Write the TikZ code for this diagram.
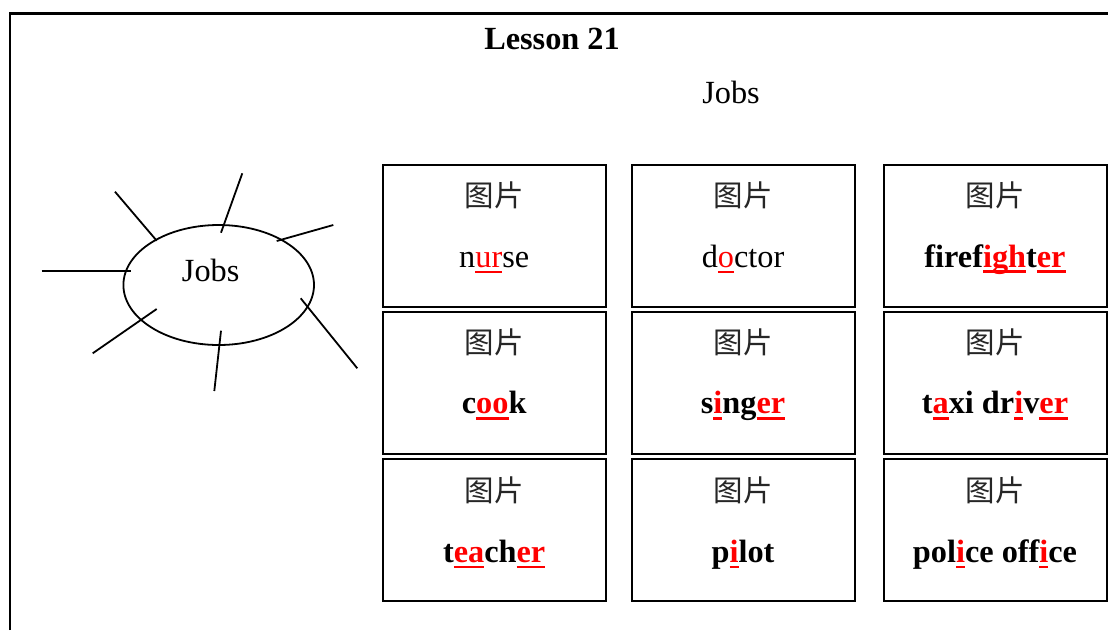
\documentclass[tikz,border=0pt]{standalone}
\usepackage{fontspec}
\setmainfont{Liberation Serif}
\newfontfamily\cjk{Noto Sans CJK SC}
\usetikzlibrary{shapes.geometric}
\newcommand\redul[2][2.7pt]{{\color{red}\setbox0\hbox{#2}\rlap{\rule[-6pt]{\wd0}{#1}}\box0}}
\newcommand\redthin[1]{\redul[1.7pt]{#1}}
\tikzset{
  txt/.style={inner sep=0pt, font=\fontsize{32.3}{38}\selectfont},
  btxt/.style={inner sep=0pt, font=\bfseries\fontsize{32.3}{38}\selectfont},
  pic/.style={inner sep=0pt, font=\cjk\fontsize{29.5}{35}\selectfont, text=black!85},
  wordbox/.style={draw, line width=2pt, minimum width=223pt, minimum height=142pt, inner sep=0pt},
  ray/.style={line width=1.8pt},
}
\begin{document}
\begin{tikzpicture}[x=1pt,y=-1pt]
\useasboundingbox (0,0) rectangle (1108,630);
\fill[white] (0,0) rectangle (1108,630);
% frame
\draw[line width=2.2pt] (9.6,630) -- (9.6,13.4) -- (1108,13.4);
% titles
\node[btxt, anchor=base] (title) at (552,49) {Lesson 21};
\node[txt, anchor=base] (sub) at (731,103) {Jobs};
% mind map
\node[draw, ellipse, line width=1.8pt, minimum width=190.6pt, minimum height=120pt, inner sep=0pt] (hub) at (218.7,285) {};
\node[txt, anchor=base] (hubtxt) at (210.7,281.5) {Jobs};
\coordinate (a1) at (115,191.7);   \coordinate (b1) at (156.7,240.7);
\coordinate (a2) at (242.3,173.3); \coordinate (b2) at (221,232.7);
\coordinate (a3) at (333.3,225);   \coordinate (b3) at (276.7,241);
\coordinate (a4) at (41.7,270.7);  \coordinate (b4) at (130.7,270.7);
\coordinate (a5) at (156.7,309);   \coordinate (b5) at (92.7,353.3);
\coordinate (a6) at (221,330.7);   \coordinate (b6) at (214.3,391);
\coordinate (a7) at (300.7,298.3); \coordinate (b7) at (357.3,368.3);
\foreach \i in {1,...,7} \draw[ray] (a\i) -- (b\i);
% boxes
\foreach \cx/\c in {494.2/1,743/2,995/3}{
  \foreach \ty/\r in {164/1,310.7/2,458.3/3}{
    \node[wordbox, anchor=north] (box\r\c) at (\cx,\ty) {};
    \node[pic] (pic\r\c) at (\cx,\ty+31.8) {图片};
  }
}
% words
\node[txt, anchor=base] (w11) at ([yshift=-103pt]box11.north) {n\redthin{ur}se};
\node[txt, anchor=base] (w12) at ([yshift=-103pt]box12.north) {d\redthin{o}ctor};
\node[btxt, anchor=base] (w13) at ([yshift=-103pt]box13.north) {firef\redul{igh}t\redul{er}};
\node[btxt, anchor=base] (w21) at ([yshift=-103pt]box21.north) {c\redul{oo}k};
\node[btxt, anchor=base] (w22) at ([yshift=-103pt]box22.north) {s\redul{i}ng\redul{er}};
\node[btxt, anchor=base] (w23) at ([yshift=-103pt]box23.north) {t\redul{a}xi dr\redul{i}v\redul{er}};
\node[btxt, anchor=base] (w31) at ([yshift=-104pt]box31.north) {t\redul{ea}ch\redul{er}};
\node[btxt, anchor=base] (w32) at ([yshift=-104pt]box32.north) {p\redul{i}lot};
\node[btxt, anchor=base] (w33) at ([yshift=-104pt]box33.north) {pol\redul{i}ce off\redul{i}ce};
\end{tikzpicture}
\end{document}
